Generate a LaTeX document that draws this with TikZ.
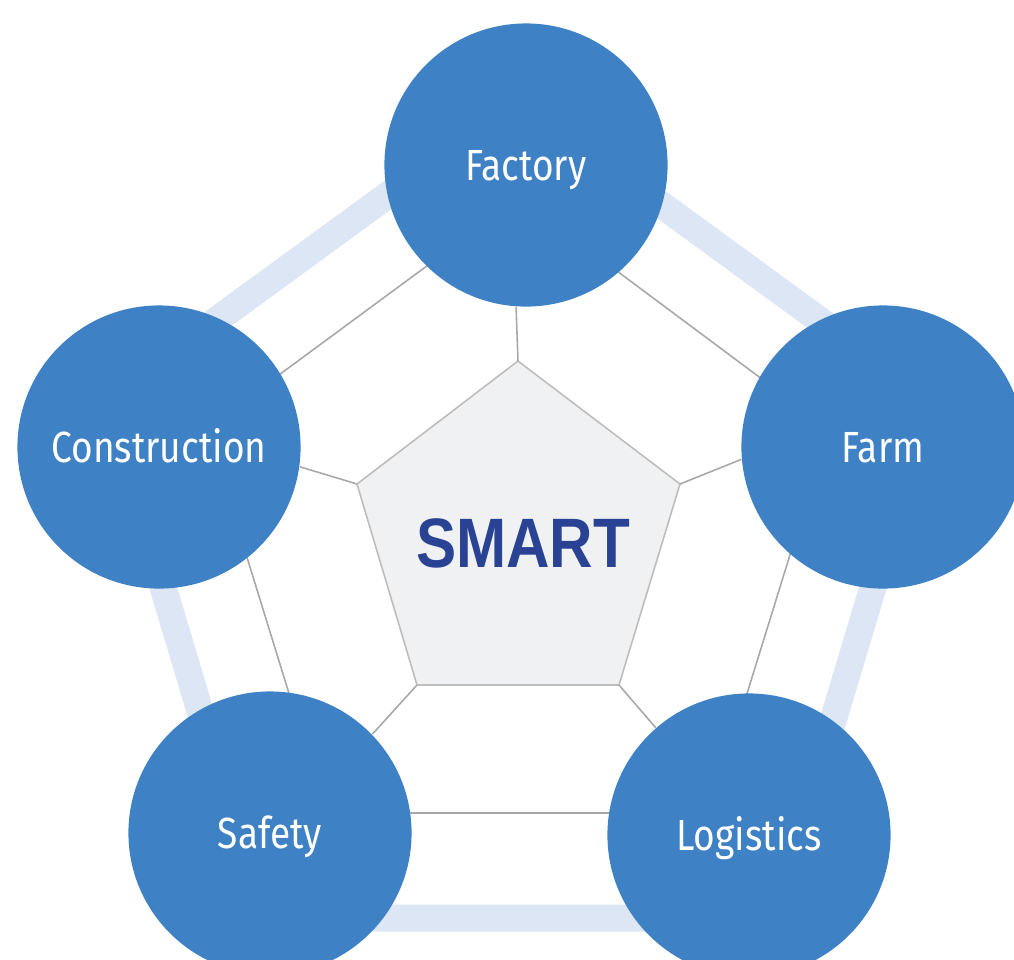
\documentclass[tikz,border=0pt]{standalone}
\usepackage{fontspec}
\setmainfont{Fira Sans}[FakeStretch=0.85]
\newfontfamily\smartfont{Liberation Sans}[FakeStretch=0.86]
\definecolor{areablue}{HTML}{3E81C4}
\definecolor{bandblue}{HTML}{DDE6F4}
\definecolor{coregray}{HTML}{F0F1F3}
\definecolor{coreline}{HTML}{BDBDBD}
\definecolor{smartblue}{HTML}{2A4294}
\definecolor{linegray}{HTML}{A8A8A8}
\begin{document}
\begin{tikzpicture}[x=0.01cm,y=-0.01cm,
  area/.style={circle,fill=areablue,minimum size=2.83cm,inner sep=0pt,text=white,
    font=\fontsize{12.4}{14}\selectfont,text height=0.30cm,text depth=0pt},
  rule/.style={draw=linegray,line width=0.45pt}]
\useasboundingbox (0,0) rectangle (1014,959);
% outer band
\draw[bandblue,line width=0.27cm,line join=round] (518,100) to (929,400) to (774,918) to (262,918) to (107,400) -- cycle;
% middle ring
\draw[rule] (519,198) to (829,429) to (710,813) to (326,813) to (207,428) -- cycle;
% core
\coordinate (c1) at (518,361);
\coordinate (c2) at (680,484);
\coordinate (c3) at (619,685);
\coordinate (c4) at (417,685);
\coordinate (c5) at (357,484);
\draw[draw=coreline,line width=0.45pt,fill=coregray] (c1) -- (c2) -- (c3) -- (c4) -- (c5) -- cycle;
\node[text=smartblue,font=\fontsize{19.9}{22}\smartfont\bfseries] (smart) at (523,543) {SMART};
% areas
\node[area] (factory) at (526,165) {Factory};
\node[area] (farm) at (883,447) {Farm};
\node[area] (logistics) at (749,835) {Logistics};
\node[area] (safety) at (270,833) {Safety};
\node[area] (construction) at (159,447) {Construction};
% spokes
\draw[rule] (c1) -- (factory.-94);
\draw[rule] (c2) -- (farm.185);
\draw[rule] (c3) -- (logistics.131);
\draw[rule] (c4) -- (safety.44);
\draw[rule] (c5) -- (construction.-8);
\end{tikzpicture}
\end{document}
